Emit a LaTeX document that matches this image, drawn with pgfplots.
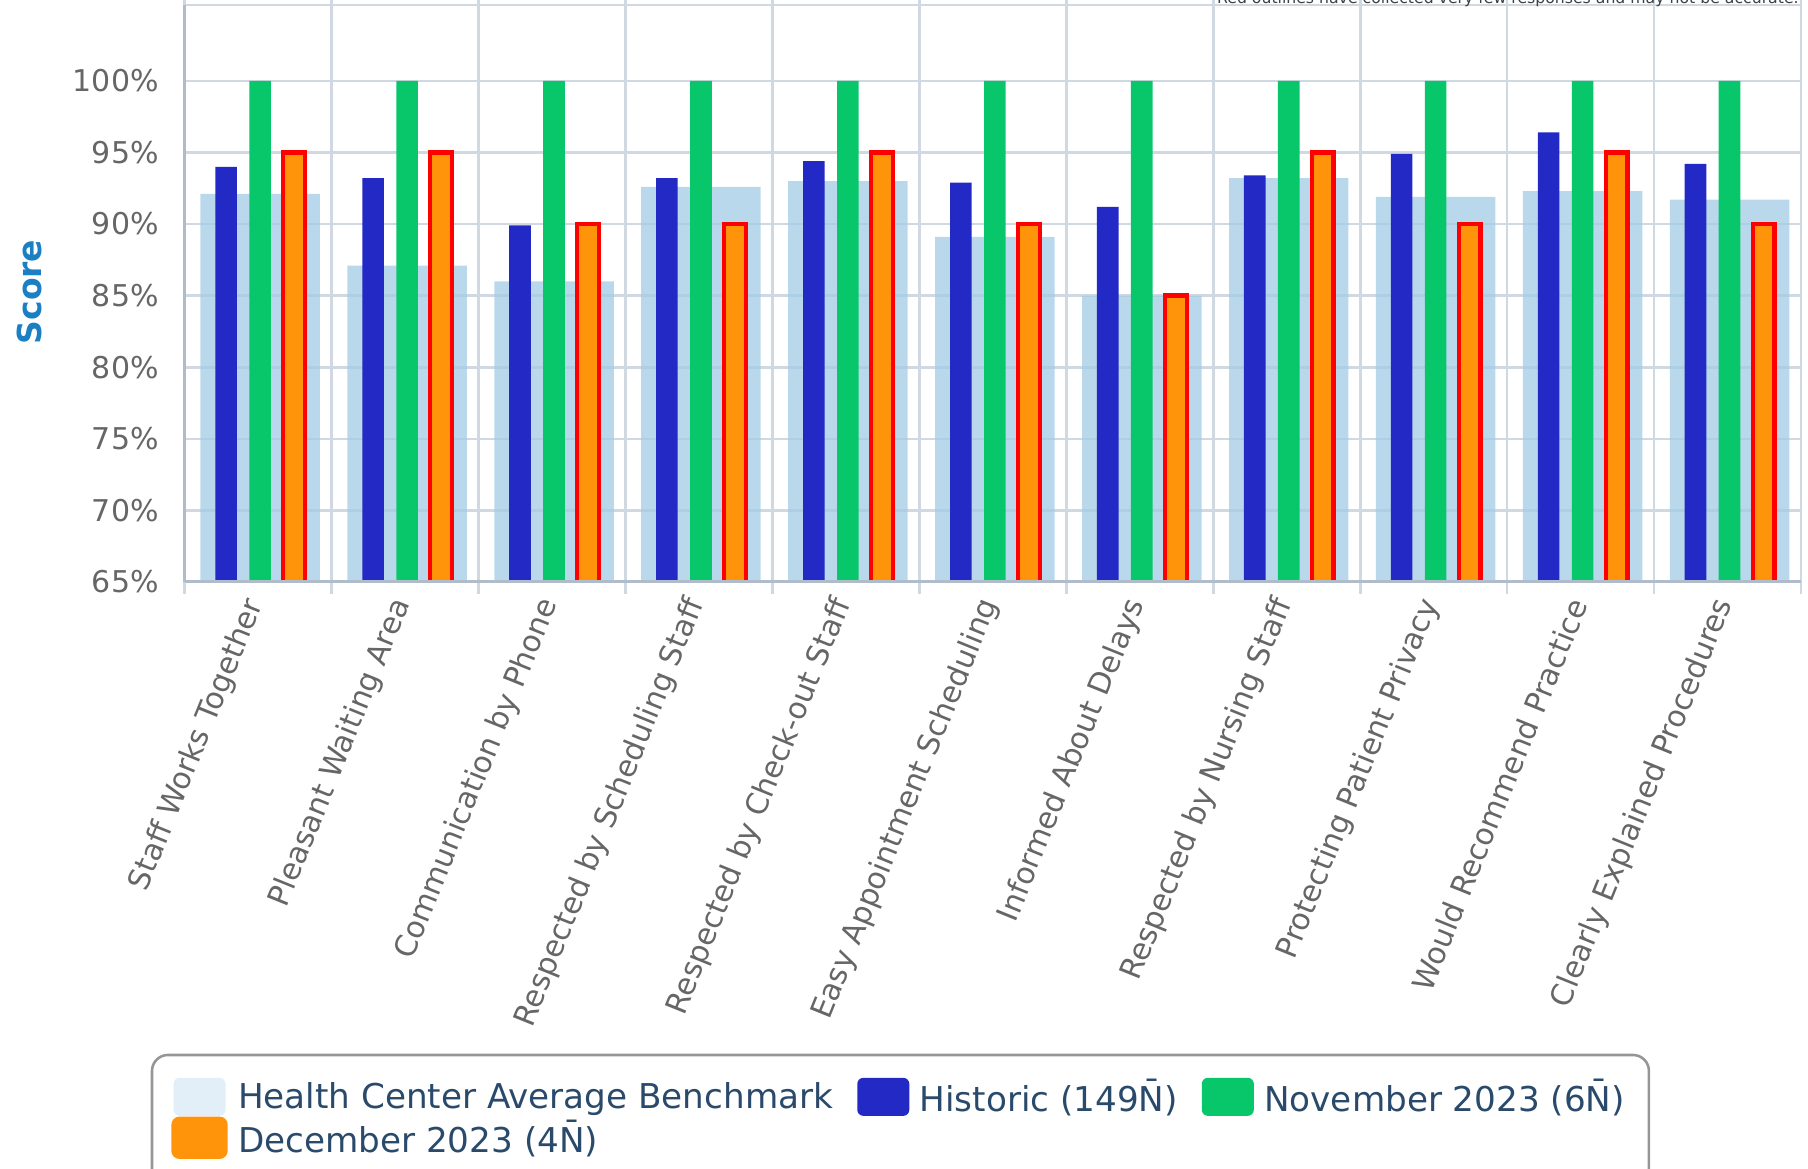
\documentclass[border=0pt]{standalone}
\usepackage{pgfplots}
\pgfplotsset{compat=1.18}
\usepackage{pgfplotstable}
\usepackage{fontspec}
\setmainfont{DejaVu Sans}
\definecolor{gridc}{RGB}{208,216,226}
\definecolor{axisc}{RGB}{176,188,202}
\definecolor{benchc}{RGB}{163,203,230}
\definecolor{histc}{RGB}{35,41,196}
\definecolor{novc}{RGB}{8,199,107}
\definecolor{decc}{RGB}{255,147,9}
\definecolor{labc}{RGB}{102,102,102}
\definecolor{legc}{RGB}{42,74,107}
\definecolor{scorec}{RGB}{27,127,196}
\definecolor{legbox}{RGB}{150,150,150}

\pgfplotstableread{
x bench hist nov dec
0.5 92.1 94.0 100 95
1.5 87.1 93.2 100 95
2.5 86.0 89.9 100 90
3.5 92.6 93.2 100 90
4.5 93.0 94.4 100 95
5.5 89.1 92.9 100 90
6.5 85.0 91.2 100 85
7.5 93.2 93.4 100 95
8.5 91.9 94.9 100 90
9.5 92.3 96.4 100 95
10.5 91.7 94.2 100 90
}\data

\begin{document}
\begin{tikzpicture}
\begin{axis}[
  scale only axis, width=808.2pt, height=288.5pt,
  at={(0,0)}, anchor=south west,
  xmin=0, xmax=11, ymin=65, ymax=105.3,
  xtick={0,...,11}, x tick label as interval,
  xticklabels={Staff Works Together, Pleasant Waiting Area, Communication by Phone, Respected by Scheduling Staff, Respected by Check-out Staff, Easy Appointment Scheduling, Informed About Delays, Respected by Nursing Staff, Protecting Patient Privacy, Would Recommend Practice, Clearly Explained Procedures},
  ytick={65,70,...,100},
  yticklabels={65\%,70\%,75\%,80\%,85\%,90\%,95\%,100\%},
  grid=major, grid style={draw=gridc, line width=1.3pt},
  axis line style={draw=gridc, line width=1.3pt},
  tick align=outside, major tick length=6pt,
  xtick style={draw=gridc, line width=1.3pt},
  ytick style={draw=none},
  yticklabel style={font=\fontsize{15}{18}\selectfont, text=labc, xshift=-3.5pt},
  xticklabel style={font=\fontsize{15}{18}\selectfont, text=labc, rotate=68, anchor=east},
  ylabel={Score},
  ylabel style={at={(axis description cs:-0.09633,0.5026)}, anchor=center, font=\bfseries\fontsize{16.5}{20}\selectfont, text=scorec},
  legend columns=3,
  legend cell align=left,
  legend style={at={(axis description cs:-0.00848,-0.8574)}, anchor=north west, draw=none, fill=none, inner sep=0pt,
    font=\fontsize{17.1}{20}\selectfont, text=legc,
    nodes={inner xsep=0pt, inner ysep=1.2pt},
    /tikz/every odd column/.append style={column sep=5.2pt},
    /tikz/every even column/.append style={column sep=12pt}},
]
\addplot[ybar, fill=benchc, fill opacity=0.75, draw=none, bar width=0.813, bar shift=0.0136,
  legend image code/.code={\fill[benchc!40!white, rounded corners=3pt] (0pt,-9.5pt) rectangle (26pt,9.5pt);}]
  table[x=x, y=bench]{\data};
\addlegendentry{Health Center Average Benchmark}
\addplot[ybar, fill=histc, draw=none, bar width=0.147, bar shift=-0.218,
  legend image code/.code={\fill[histc, rounded corners=3pt] (0pt,-9.5pt) rectangle (26pt,9.5pt);}]
  table[x=x, y=hist]{\data};
\addlegendentry{Historic (149N̄)}
\addplot[ybar, fill=novc, draw=none, bar width=0.147, bar shift=0.0136,
  legend image code/.code={\fill[novc, rounded corners=3pt] (0pt,-9.5pt) rectangle (26pt,9.5pt);}]
  table[x=x, y=nov]{\data};
\addlegendentry{November 2023 (6N̄)}
\addplot[ybar, fill=decc, draw=red, line width=2.15pt, bar width=0.148, bar shift=0.245,
  legend image code/.code={\fill[decc, rounded corners=3pt] (0pt,-9.5pt) rectangle (26pt,9.5pt);}]
  table[x=x, y=dec]{\data};
\addlegendentry{December 2023 (4N̄)}
\end{axis}
\draw[axisc, line width=1.5pt] (0,0) -- (0,288.5pt);
\draw[axisc, line width=1.5pt] (0,0) -- (808.2pt,0);
\draw[legbox, line width=1.3pt, rounded corners=8pt] (-16.35pt,-236.5pt) rectangle (732.15pt,-330pt);
\node[anchor=base east, font=\fontsize{7.85}{9}\selectfont, text=black!75, inner sep=0pt] at (807.2pt,289.3pt) {Red outlines have collected very few responses and may not be accurate.};
\pgfresetboundingbox
\useasboundingbox (-92.35pt,-293.5pt) rectangle (811.7pt,291pt);
\end{tikzpicture}
\end{document}
